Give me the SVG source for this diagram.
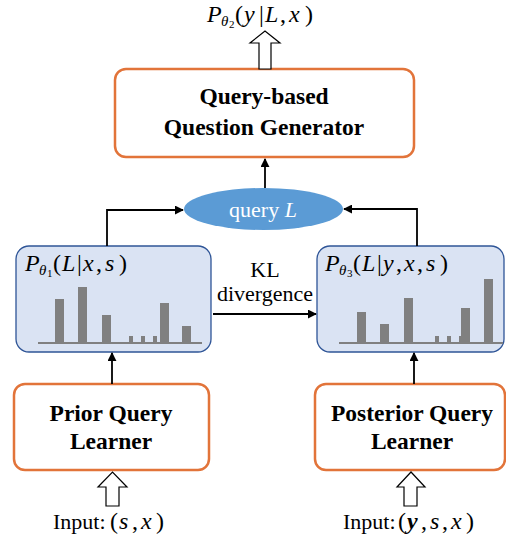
<svg xmlns="http://www.w3.org/2000/svg" width="506" height="538" viewBox="0 0 506 538">
<style>
.obox{fill:#fff;stroke:#E2743A;stroke-width:2.5}
.bbox{fill:#DAE3F3;stroke:#2F5597;stroke-width:1.3}
.title{font-family:"Liberation Serif","Times New Roman",Tinos,"Noto Serif","DejaVu Serif",serif;font-weight:bold;font-size:23.5px;fill:#000;text-anchor:middle}
.txt{font-family:"Liberation Serif","Times New Roman",Tinos,"Noto Serif","DejaVu Serif",serif;font-size:22px;fill:#000}
.math{font-family:"Liberation Serif","Times New Roman",Tinos,"Noto Serif","DejaVu Serif",serif;font-style:italic;font-size:24px;fill:#000}
.up{font-style:normal}
.sub{font-size:15px}
.sub2{font-size:11px;font-style:normal}
.bar{fill:#808080}
.axis{stroke:#808080;stroke-width:2}
.conn{fill:none;stroke:#000;stroke-width:1.8}
.hollow{fill:#fff;stroke:#000;stroke-width:1.2}
</style>
<defs>
<marker id="ah" viewBox="0 0 10 10" refX="9" refY="5" markerWidth="5" markerHeight="5" orient="auto" markerUnits="strokeWidth">
<path d="M0,0 L10,5 L0,10 z" fill="#000"/>
</marker>
</defs>

<g id="output-label">
<text class="math" y="22"><tspan x="207">P</tspan><tspan class="sub" x="221" dy="4">θ</tspan><tspan class="sub2" x="229" dy="2">2</tspan><tspan class="up" x="235" dy="-6">(</tspan><tspan x="244">y</tspan><tspan class="up" x="259">|</tspan><tspan x="265">L</tspan><tspan class="up" x="280">,</tspan><tspan x="289">x</tspan><tspan class="up" x="305">)</tspan></text>
</g>

<g id="generator">
<rect class="obox" x="115" y="69" width="299" height="88" rx="11"/>
<text class="title" x="264" y="104">Query-based</text>
<text class="title" x="264" y="135">Question Generator</text>
</g>

<g id="query">
<ellipse cx="263.5" cy="209" rx="79.5" ry="21" fill="#5B9BD5"/>
<text class="txt" x="263" y="217" text-anchor="middle" style="fill:#fff">query <tspan font-style="italic">L</tspan></text>
</g>

<g id="prior-dist">
<rect class="bbox" x="16" y="246" width="195" height="106" rx="13"/>
<text class="math" y="271"><tspan x="25">P</tspan><tspan class="sub" x="39" dy="4">θ</tspan><tspan class="sub2" x="47" dy="2">1</tspan><tspan class="up" x="53" dy="-6">(</tspan><tspan x="62">L</tspan><tspan class="up" x="77">|</tspan><tspan x="83">x</tspan><tspan class="up" x="96">,</tspan><tspan x="105">s</tspan><tspan class="up" x="119">)</tspan></text>
<rect class="bar" x="55" y="299" width="9" height="44"/>
<rect class="bar" x="78" y="287" width="9" height="56"/>
<rect class="bar" x="102" y="315" width="9" height="28"/>
<rect class="bar" x="129" y="336" width="4" height="7"/>
<rect class="bar" x="141" y="336" width="4" height="7"/>
<rect class="bar" x="153" y="336" width="4" height="7"/>
<rect class="bar" x="160" y="303" width="9" height="40"/>
<rect class="bar" x="182" y="326" width="9" height="17"/>
<line class="axis" x1="38" y1="343" x2="202" y2="343"/>
</g>

<g id="posterior-dist">
<rect class="bbox" x="317" y="246" width="187" height="106" rx="13"/>
<text class="math" y="271"><tspan x="325">P</tspan><tspan class="sub" x="339" dy="4">θ</tspan><tspan class="sub2" x="347" dy="2">3</tspan><tspan class="up" x="353" dy="-6">(</tspan><tspan x="362">L</tspan><tspan class="up" x="377">|</tspan><tspan x="383">y</tspan><tspan class="up" x="396">,</tspan><tspan x="404">x</tspan><tspan class="up" x="417">,</tspan><tspan x="426">s</tspan><tspan class="up" x="440">)</tspan></text>
<rect class="bar" x="357" y="312" width="9" height="31"/>
<rect class="bar" x="380" y="324" width="9" height="19"/>
<rect class="bar" x="404" y="298" width="9" height="45"/>
<rect class="bar" x="435" y="336" width="4" height="7"/>
<rect class="bar" x="447" y="336" width="4" height="7"/>
<rect class="bar" x="459" y="336" width="4" height="7"/>
<rect class="bar" x="461" y="308" width="9" height="35"/>
<rect class="bar" x="484" y="279" width="9" height="64"/>
<line class="axis" x1="339" y1="343" x2="503" y2="343"/>
</g>

<g id="kl-label">
<text class="txt" x="265" y="277" text-anchor="middle">KL</text>
<text class="txt" x="265" y="301" text-anchor="middle">divergence</text>
</g>

<g id="prior-learner">
<rect class="obox" x="14" y="384" width="195" height="86" rx="11"/>
<text class="title" x="111" y="421">Prior Query</text>
<text class="title" x="111" y="449">Learner</text>
</g>

<g id="posterior-learner">
<rect class="obox" x="315" y="384" width="190" height="86" rx="11"/>
<text class="title" x="412" y="421">Posterior Query</text>
<text class="title" x="412" y="449">Learner</text>
</g>

<g id="prior-input">
<text class="txt" x="53" y="529" font-size="23.5">Input:</text>
<text class="math" y="529"><tspan class="up" x="110">(</tspan><tspan x="119">s</tspan><tspan class="up" x="132">,</tspan><tspan x="141">x</tspan><tspan class="up" x="156">)</tspan></text>
</g>

<g id="posterior-input">
<text class="txt" x="343" y="529" font-size="23.5">Input:</text>
<text class="math" y="529"><tspan class="up" x="398">(</tspan><tspan x="407" font-weight="bold">y</tspan><tspan class="up" x="421">,</tspan><tspan x="430">s</tspan><tspan class="up" x="442">,</tspan><tspan x="451">x</tspan><tspan class="up" x="466">)</tspan></text>
</g>

<g id="connectors">
<path class="hollow" d="M259,69 L259,43 L250,43 L265,31 L280,43 L271,43 L271,69 Z"/>
<path class="hollow" d="M106,506 L106,487 L98,487 L112.5,472 L127,487 L119,487 L119,506 Z"/>
<path class="hollow" d="M404,506 L404,487 L397,487 L411,472 L425,487 L417,487 L417,506 Z"/>
<line class="conn" x1="265" y1="188" x2="265" y2="159" marker-end="url(#ah)"/>
<path class="conn" d="M107,246 L107,210 L183,210" marker-end="url(#ah)"/>
<path class="conn" d="M417,246 L417,209 L344,209" marker-end="url(#ah)"/>
<line class="conn" x1="213" y1="314" x2="316" y2="314" marker-end="url(#ah)"/>
<line class="conn" x1="112" y1="384" x2="112" y2="353" marker-end="url(#ah)"/>
<line class="conn" x1="414" y1="384" x2="414" y2="353" marker-end="url(#ah)"/>
</g>
</svg>
